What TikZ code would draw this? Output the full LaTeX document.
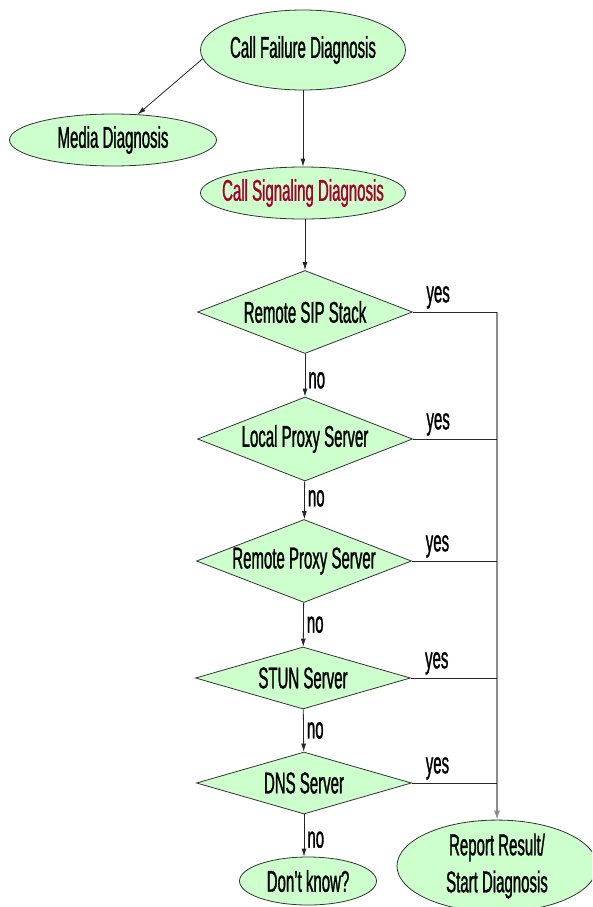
\documentclass[tikz,border=0pt]{standalone}
\usepackage{fontspec}
\setmainfont[FakeStretch=0.5, FakeBold=1]{Liberation Sans}
\usepackage{tikz}
\usetikzlibrary{shapes.geometric, arrows.meta, positioning, calc}
\usepackage{xcolor}
\definecolor{boxgreen}{RGB}{204,255,204}
\definecolor{sigred}{RGB}{165,0,45}
\newcommand{\chartfont}{\fontsize{30}{37}\selectfont}
\tikzstyle{oval}     = [ellipse, draw=black!80, line width=0.8pt, fill=boxgreen, inner xsep=-12pt, inner ysep=0pt, align=center, font=\chartfont]
\tikzstyle{decision} = [diamond, draw=black!80, line width=0.8pt, fill=boxgreen, inner sep=0pt, minimum width=215pt, font=\chartfont]
\tikzstyle{arrow}    = [line width=0.8pt, draw=black!85, -{Latex[length=8pt,width=5pt]}]
\tikzstyle{yesline}  = [line width=0.9pt, draw=black!85]
\tikzstyle{busline}  = [line width=1.5pt, draw=black!45, -{Latex[length=9pt,width=6pt]}]
\tikzstyle{answer}   = [font=\chartfont, inner sep=3pt]

\begin{document}
\begin{tikzpicture}[x=1pt, y=-1pt]
  \useasboundingbox (0,0) rectangle (592,907);
  \clip (0,0) rectangle (592,907);

  % Top - diagnosis split
  \node[oval, minimum width=205pt, minimum height=80pt] (cfd) at (303,50) {Call Failure Diagnosis};
  \node[oval, minimum width=207pt, minimum height=52pt] (media) at (113,140) {Media Diagnosis};
  \node[oval, minimum width=205pt, minimum height=52pt, text=sigred] (csd) at (303,193) {Call Signaling Diagnosis};

  % Checks
  \node[decision, aspect=2.59, minimum height=83pt] (sip) at (305,312) {Remote SIP Stack};
  \node[decision, aspect=2.56, minimum height=84pt] (lproxy) at (305,439) {Local Proxy Server};
  \node[decision, aspect=2.59, minimum height=83pt] (rproxy) at (304,561) {Remote Proxy Server};
  \node[decision, aspect=3.47, minimum height=62pt] (stun) at (303,678) {STUN Server};
  \node[decision, aspect=3.47, minimum height=62pt] (dns) at (304,783) {DNS Server};

  % Results
  \node[oval, minimum width=137pt, minimum height=48pt] (unknown) at (308,881) {Don't know?};
  \node[oval, minimum width=200pt, minimum height=88pt] (report) at (497,866) {Report Result/\\Start Diagnosis};

  % Arrows
  \draw[arrow] (cfd.185) -- (media.46);
  \draw[arrow] (cfd) -- (csd);
  \draw[arrow] (csd.south -| sip.north) -- (sip);
  \draw[arrow] (sip) -- node[answer, right, pos=0.62]{no} (lproxy);
  \draw[arrow] (lproxy) -- node[answer, right, pos=0.45]{no} (rproxy);
  \draw[arrow] (rproxy) -- node[answer, right, pos=0.5]{no} (stun);
  \draw[arrow] (stun) -- node[answer, right, pos=0.5]{no} (dns);
  \draw[arrow] (dns) -- node[answer, right, pos=0.6]{no} (unknown.north -| dns.south);

  % yes branches
  \coordinate (bus) at (sip.east -| report.north);
  \draw[busline] (bus) -- (report.north);
  \foreach \chk in {sip, lproxy, rproxy, stun, dns}
    \draw[yesline] (\chk.east) -- node[answer, above, pos=0.3]{yes} (\chk.east -| bus);

\end{tikzpicture}
\end{document}
